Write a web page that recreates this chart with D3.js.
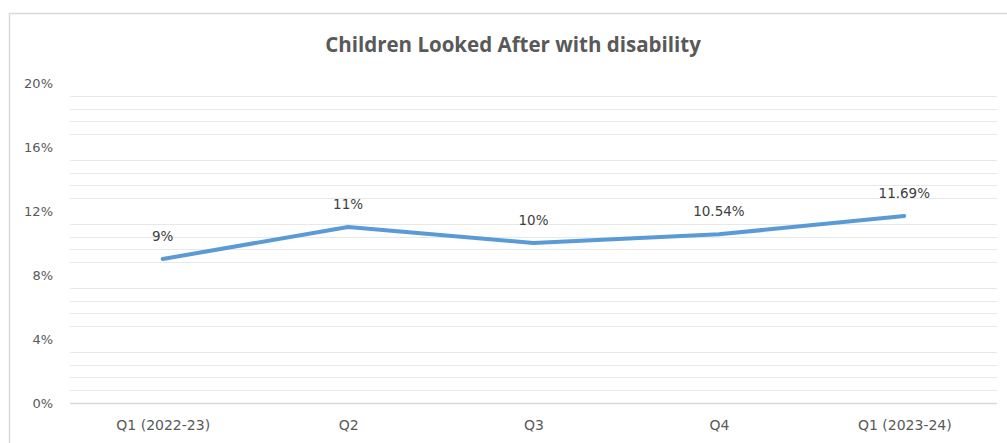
<!DOCTYPE html>
<html><head><meta charset="utf-8">
<script src="https://cdn.jsdelivr.net/npm/d3@7"></script>
<style>body{margin:0;background:#fff}svg{display:block}</style>
</head><body>
<svg id="c" width="1007" height="443"></svg>
<script>
const categories = ["Q1 (2022-23)", "Q2", "Q3", "Q4", "Q1 (2023-24)"];
const values = [9, 11, 10, 10.54, 11.69];
const valueLabels = ["9%", "11%", "10%", "10.54%", "11.69%"];
const yTicks = [0, 4, 8, 12, 16, 20];
const title = "Children Looked After with disability";

(function () {
const svg = d3.select("#c");
svg.append("rect").attr("x", 9.5).attr("y", 13.5).attr("width", 1010).attr("height", 440)
  .attr("fill", "#fff").attr("stroke", "#d9d9d9").attr("stroke-width", 1.5);

const mLeft = 70, mRight = 997, mTop = 83, mBottom = 403;
const x = d3.scalePoint().domain(categories).range([mLeft, mRight]).padding(0.5);
const y = d3.scaleLinear().domain([0, 20]).range([mBottom, mTop]);

// minor gridlines (every 0.8%) excluding major levels
const minor = d3.range(0, 25).map(i => i * 0.8).filter(v => v > 0 && Math.abs(v / 4 - Math.round(v / 4)) > 1e-6);
svg.append("g").selectAll("line").data(minor).join("line")
  .attr("x1", mLeft).attr("x2", mRight)
  .attr("y1", d => Math.round(y(d)) + 0.5).attr("y2", d => Math.round(y(d)) + 0.5)
  .attr("stroke", "#e8e8e8").attr("stroke-width", 1);

// x axis line
svg.append("line").attr("x1", mLeft).attr("x2", mRight)
  .attr("y1", y(0) + 0.5).attr("y2", y(0) + 0.5)
  .attr("stroke", "#d9d9d9").attr("stroke-width", 1.5);

const lblFont = "DejaVu Sans, Verdana, sans-serif";
// y axis labels
const yAxis = d3.axisLeft(y).tickValues(yTicks).tickFormat(d => d + "%").tickSize(0).tickPadding(0);
const gy = svg.append("g").attr("transform", `translate(53,0)`).call(yAxis);
gy.select(".domain").remove();
gy.selectAll("text").attr("font-family", lblFont).attr("font-size", 13).attr("fill", "#595959");

// x axis labels
const xAxis = d3.axisBottom(x).tickSize(0).tickPadding(0);
const gx = svg.append("g").attr("transform", `translate(0,420)`).call(xAxis);
gx.select(".domain").remove();
gx.selectAll("text").attr("font-family", lblFont).attr("font-size", 14).attr("fill", "#595959");

// line
const line = d3.line().x((d, i) => x(categories[i])).y(d => y(d));
svg.append("path").datum(values).attr("d", line)
  .attr("fill", "none").attr("stroke", "#5B9BD5").attr("stroke-width", 4)
  .attr("stroke-linejoin", "round").attr("stroke-linecap", "round");

// data labels
svg.append("g").selectAll("text").data(values).join("text")
  .attr("x", (d, i) => x(categories[i])).attr("y", d => y(d) - 18)
  .attr("text-anchor", "middle")
  .attr("font-family", lblFont).attr("font-size", 13.5).attr("fill", "#404040")
  .text((d, i) => valueLabels[i]);

// title
svg.append("text").attr("x", 513).attr("y", 52).attr("text-anchor", "middle")
  .attr("font-family", "Open Sans, sans-serif").attr("font-weight", 700).attr("font-size", 20.5)
  .attr("fill", "#595959").text(title);
})();
</script>
</body></html>
